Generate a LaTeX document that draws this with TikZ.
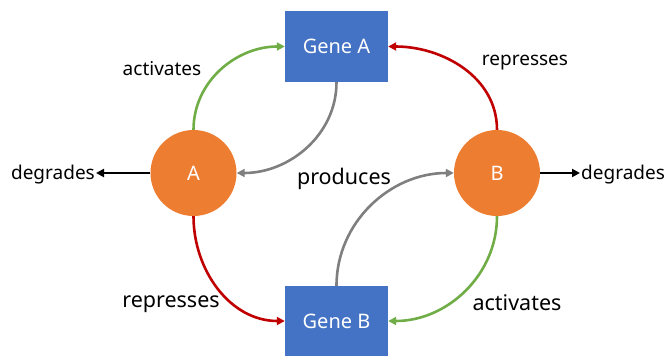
\documentclass[tikz,border=0pt]{standalone}
\usepackage{fontspec}
\setmainfont{Noto Sans}
\usetikzlibrary{arrows.meta}
\definecolor{geneblue}{HTML}{4472C4}
\definecolor{protorange}{HTML}{ED7D31}
\definecolor{actgreen}{HTML}{70AD47}
\definecolor{repred}{HTML}{C00000}
\definecolor{prodgray}{HTML}{7F7F7F}
\tikzset{
  gene/.style={fill=geneblue, text=white, minimum width=103pt, minimum height=71pt, inner sep=0pt, font=\fontsize{20}{24}\selectfont},
  prot/.style={circle, fill=protorange, text=white, minimum size=86pt, inner sep=0pt, font=\fontsize{20}{24}\selectfont},
  lblsmall/.style={inner sep=1pt, font=\fontsize{19}{23}\selectfont},
  lblbig/.style={inner sep=1pt, font=\fontsize{21.5}{26}\selectfont},
  conn/.style={line width=2.6pt, -{Triangle[length=8pt,width=8pt]}},
  act/.style={conn, draw=actgreen},
  rep/.style={conn, draw=repred},
  prod/.style={conn, draw=prodgray},
  deg/.style={conn, draw=black},
}
\begin{document}
\begin{tikzpicture}[x=1pt,y=-1pt]
\useasboundingbox (0,0) rectangle (669,356);
\node[gene] (ga) at (336.5,46.5) {Gene A};
\node[gene, minimum height=70pt] (gb) at (336.5,321) {Gene B};
\node[prot] (a) at (193.5,173) {A};
\node[prot] (b) at (497,173) {B};
\node[lblsmall] (l1) at (162,69) {activates};
\node[lblsmall] (l2) at (525,63) {represses};
\node[lblbig] (l3) at (171,304) {represses};
\node[lblbig] (l4) at (517,303) {activates};
\node[lblbig] (l5) at (344,178.5) {produces};
\node[lblsmall, anchor=east] (dl) at (96,175) {degrades};
\node[lblsmall, anchor=west] (dr) at (580,175) {degrades};
\draw[act] (a.north) to[out=90,in=180] (ga.west);
\draw[prod] (ga.south) to[out=-90,in=0] (a.east);
\draw[rep] (b.north) to[out=90,in=0] (ga.east);
\draw[rep] (a.south) to[out=-90,in=180] (gb.west);
\draw[prod] (gb.north) to[out=90,in=180] (b.west);
\draw[act] (b.south) to[out=-90,in=0] (gb.east);
\draw[deg] (a.west) -- (dl.east |- a.west);
\draw[deg] (b.east) -- (dr.west |- b.east);
\end{tikzpicture}
\end{document}
